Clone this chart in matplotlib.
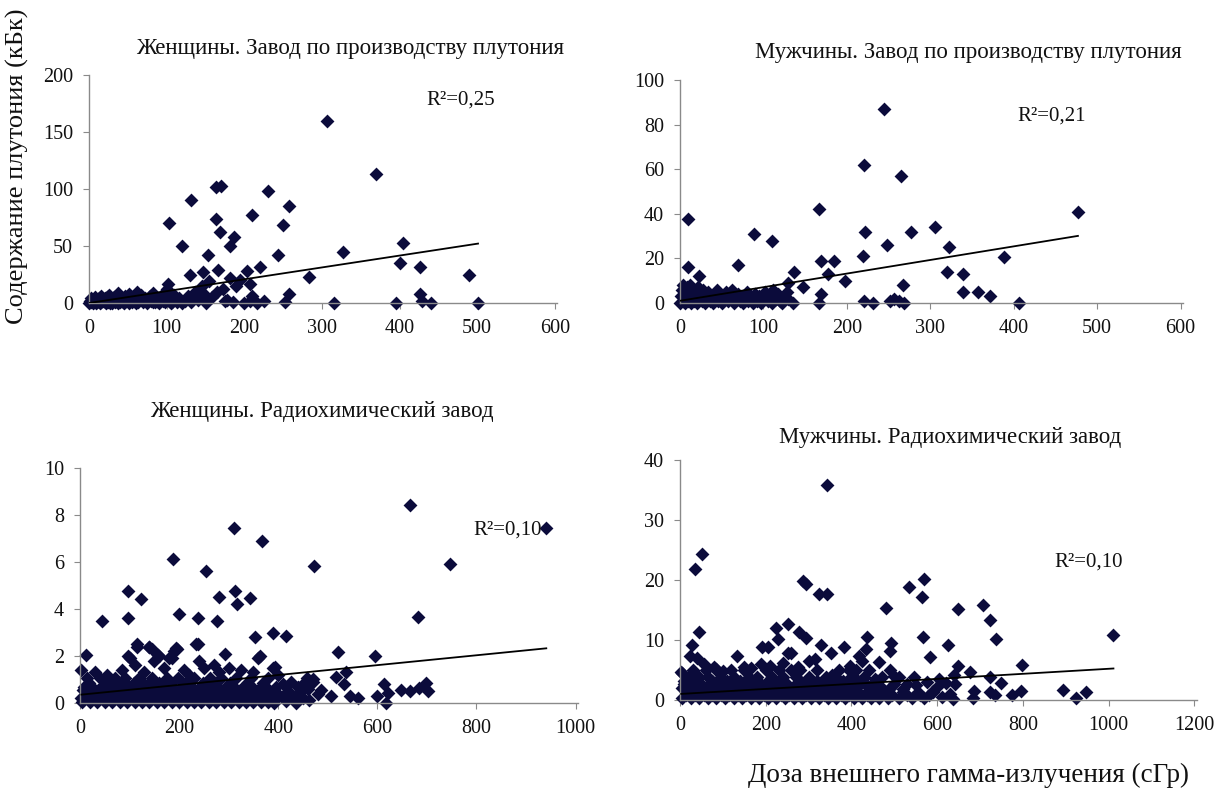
import matplotlib
matplotlib.use("Agg")
import matplotlib.pyplot as plt
import numpy as np

plt.rcParams['font.family'] = ['Liberation Serif', 'DejaVu Serif']

# --- data (dose cGy, plutonium kBq) ---

women_pu_pts = [
    (306, 160), (370, 113), (163, 102), (170, 103), (231, 98), (131, 90), (257, 85),
    (210, 77), (163, 74), (103, 70), (250, 68), (169, 62), (187, 58), (182, 50),
    (120, 50), (404, 53), (327, 45), (153, 42), (243, 42), (400, 35), (426, 32),
    (220, 32), (489, 25), (283, 23), (130, 25), (147, 27), (166, 29), (181, 22),
    (203, 28), (207, 17), (102, 17), (189, 15), (154, 19), (257, 8), (426, 8),
    (315, 0), (396, 0), (440, 0), (501, 0), (429, 2), (252, 1), (151, 0), (175, 2),
    (199, 0), (217, 0), (208, 2),
    (2, 1), (3, 4), (5, 0), (6, 2), (8, 5), (10, 1), (12, 3), (14, 0), (15, 6), (18, 2),
    (20, 4), (22, 0), (24, 1), (26, 7), (28, 3), (30, 0), (32, 5), (35, 2), (37, 9),
    (40, 1), (42, 4), (45, 0), (47, 6), (50, 3), (52, 8), (55, 1), (57, 5), (60, 0),
    (62, 10), (65, 3), (67, 7), (70, 1), (72, 4), (75, 0), (78, 6), (80, 2), (83, 9),
    (85, 1), (88, 4), (90, 0), (93, 6), (95, 2), (98, 1), (100, 12), (102, 5), (105, 0),
    (108, 3), (110, 7), (113, 1), (116, 4), (120, 0), (124, 2), (128, 6), (132, 1),
    (136, 10), (140, 3), (145, 15), (148, 8), (158, 5), (165, 10), (172, 12), (178, 3),
    (185, 1), (195, 20), (210, 6), (225, 2),
    (0, 0), (1, 2), (4, 3), (7, 1), (9, 0), (11, 2), (13, 4), (16, 1), (19, 3), (21, 1),
    (23, 5), (27, 0), (29, 2), (33, 1), (36, 4), (38, 0), (41, 3), (44, 1), (48, 2),
    (51, 0), (54, 4), (58, 2), (63, 1), (68, 5), (73, 2), (77, 3), (82, 1), (87, 2),
    (92, 3), (97, 4), (103, 2), (107, 1), (112, 4), (118, 2),
]

men_pu_pts = [
    (244, 87), (220, 62), (265, 57), (167, 42), (477, 41), (9, 37.5), (306, 34),
    (222, 32), (277, 32), (89, 31), (110, 28), (248, 26), (322, 25), (388, 20.5),
    (219, 21), (169, 19), (184, 19), (69, 17), (9, 16), (177, 13), (320, 14), (339, 13),
    (137, 14), (23, 12), (198, 10), (148, 7), (267, 8), (130, 9), (339, 5), (357, 5),
    (372, 3), (169, 4), (406, 0), (220, 1), (231, 0), (167, 0), (252, 1), (257, 2),
    (269, 0), (262, 1), (136, 0),
    (0, 0), (1, 3), (2, 6), (3, 1), (4, 8), (5, 4), (6, 0), (7, 2), (8, 7), (9, 5),
    (10, 1), (11, 3), (12, 8), (13, 0), (14, 4), (15, 6), (16, 2), (17, 1), (18, 5),
    (19, 3), (20, 0), (21, 7), (22, 2), (24, 4), (26, 1), (28, 6), (30, 0), (32, 3),
    (34, 5), (36, 1), (38, 2), (40, 0), (42, 4), (44, 6), (46, 1), (48, 3), (50, 0),
    (52, 2), (55, 5), (58, 1), (60, 3), (62, 6), (65, 0), (68, 2), (70, 4), (72, 1),
    (75, 0), (78, 3), (80, 5), (82, 1), (85, 2), (88, 0), (90, 4), (92, 1), (95, 3),
    (97, 0), (100, 2), (102, 5), (105, 1), (108, 3), (110, 0), (112, 6), (115, 2),
    (118, 4), (120, 1), (122, 0), (125, 3), (128, 5), (130, 2),
]

women_rc_pts = [
    (665, 8.44), (941, 7.45), (310, 7.45), (367, 6.9), (187, 6.14), (472, 5.83),
    (747, 5.9), (254, 5.63), (96, 4.77), (312, 4.78), (281, 4.5), (344, 4.46),
    (124, 4.43), (317, 4.2), (200, 3.8), (96, 3.63), (682, 3.68), (238, 3.63),
    (45, 3.47), (277, 3.47), (390, 2.97), (415, 2.86), (353, 2.8), (116, 2.5),
    (139, 2.4), (238, 2.5), (521, 2.19), (193, 2.36), (12, 2.05), (293, 2.09),
    (363, 2.0), (596, 1.98), (96, 1.98), (158, 2.05), (179, 1.9), (536, 1.3),
    (394, 1.55), (517, 1.09), (533, 0.8), (613, 0.8), (648, 0.57), (665, 0.5),
    (699, 0.85), (703, 0.5), (684, 0.64), (622, 0.42), (600, 0.28), (544, 0.28),
    (562, 0.21), (507, 0.28), (618, 0.0), (486, 0.57), (462, 0.14), (471, 1.0),
    (458, 1.06),
    (5, 0.05), (20, 0.05), (35, 0.05), (50, 0.05), (65, 0.05), (80, 0.05), (95, 0.05),
    (110, 0.05), (125, 0.05), (140, 0.05), (155, 0.05), (170, 0.05), (185, 0.05),
    (200, 0.05), (215, 0.05), (230, 0.05), (245, 0.05), (260, 0.05), (275, 0.05),
    (290, 0.05), (305, 0.05), (320, 0.05), (335, 0.05), (350, 0.05), (365, 0.05),
    (380, 0.05),
    (3, 0.2), (17, 0.2), (30, 0.2), (46, 0.2), (60, 0.2), (76, 0.2), (90, 0.2),
    (106, 0.2), (120, 0.2), (136, 0.2), (150, 0.2), (166, 0.2), (180, 0.2), (196, 0.2),
    (210, 0.2), (226, 0.2), (240, 0.2), (256, 0.2), (270, 0.2), (286, 0.2), (300, 0.2),
    (316, 0.2), (330, 0.2), (346, 0.2), (360, 0.2), (376, 0.2), (390, 0.2),
    (12, 0.35), (28, 0.35), (42, 0.35), (58, 0.35), (72, 0.35), (88, 0.35), (102, 0.35),
    (118, 0.35), (132, 0.35), (148, 0.35), (162, 0.35), (178, 0.35), (192, 0.35),
    (208, 0.35), (222, 0.35), (238, 0.35), (252, 0.35), (268, 0.35), (282, 0.35),
    (298, 0.35), (312, 0.35), (328, 0.35), (342, 0.35), (358, 0.35), (372, 0.35),
    (388, 0.35), (402, 0.35),
    (6, 0.55), (20, 0.55), (36, 0.55), (52, 0.55), (66, 0.55), (82, 0.55), (96, 0.55),
    (112, 0.55), (126, 0.55), (142, 0.55), (156, 0.55), (172, 0.55), (186, 0.55),
    (202, 0.55), (216, 0.55), (232, 0.55), (246, 0.55), (262, 0.55), (276, 0.55),
    (292, 0.55), (306, 0.55), (322, 0.55), (336, 0.55), (352, 0.55), (366, 0.55),
    (382, 0.55),
    (8, 0.7), (25, 0.7), (45, 0.7), (62, 0.7), (78, 0.7), (98, 0.7), (115, 0.7),
    (135, 0.7), (150, 0.7), (168, 0.7), (188, 0.7), (205, 0.7), (225, 0.7), (242, 0.7),
    (258, 0.7), (278, 0.7), (295, 0.7), (310, 0.7), (330, 0.7), (348, 0.7), (365, 0.7),
    (395, 0.7),
    (18, 0.85), (52, 0.85), (84, 0.85), (108, 0.85), (140, 0.85), (160, 0.85),
    (182, 0.85), (214, 0.85), (248, 0.85), (272, 0.85), (302, 0.85), (338, 0.85),
    (370, 0.85),
    (15, 1.05), (40, 1.05), (70, 1.05), (90, 1.05), (120, 1.05), (145, 1.05),
    (175, 1.05), (198, 1.05), (230, 1.05), (262, 1.05), (285, 1.05), (315, 1.05),
    (345, 1.05), (380, 1.05),
    (3, 1.4), (30, 1.3), (55, 1.2), (85, 1.4), (100, 1.9), (110, 1.6), (130, 1.3),
    (140, 2.4), (150, 1.8), (160, 2.0), (170, 1.5), (185, 1.9), (195, 2.3), (210, 1.4),
    (220, 1.2), (240, 1.8), (250, 1.5), (270, 1.6), (280, 1.3), (300, 1.5), (325, 1.4),
    (350, 1.3), (360, 1.9), (390, 1.5), (400, 1.2), (60, 1.0), (125, 0.9), (235, 2.5),
    (190, 2.2), (145, 2.3), (115, 2.4),
    (410, 0.8), (420, 0.5), (430, 0.3), (440, 0.7), (450, 0.2), (460, 0.6), (470, 0.9),
    (480, 0.4), (425, 0.9), (445, 0.5), (415, 0.1), (435, 0.0), (455, 0.9), (400, 0.3),
    (392, 0.0),
]

men_rc_pts = [
    (344, 35.8), (52, 24.3), (35, 21.8), (287, 19.8), (294, 19.4), (569, 20.1),
    (535, 18.8), (325, 17.7), (342, 17.6), (565, 17.2), (706, 15.9), (481, 15.4),
    (649, 15.1), (722, 13.4), (251, 12.7), (223, 12.0), (44, 11.3), (278, 11.4),
    (1011, 10.9), (437, 10.5), (567, 10.5), (294, 10.3), (228, 10.2), (736, 10.1),
    (493, 9.5), (29, 9.1), (328, 9.1), (624, 9.1), (382, 8.8), (191, 8.8), (205, 8.8),
    (433, 8.5), (352, 7.9), (489, 8.1), (253, 7.9), (132, 7.4), (583, 7.1), (23, 7.3),
    (417, 7.4), (315, 6.9), (465, 6.3), (797, 5.9), (649, 5.7), (396, 5.7), (676, 4.7),
    (3, 4.7), (85, 5.2), (722, 3.8), (639, 4.2), (748, 2.9), (642, 2.7), (686, 1.5),
    (724, 1.4), (795, 1.5), (774, 0.8), (893, 1.6), (947, 1.3), (924, 0.4), (683, 0.4),
    (735, 0.8), (637, 0.2),
    (5, 0.3), (25, 0.3), (45, 0.3), (65, 0.3), (85, 0.3), (105, 0.3), (125, 0.3),
    (145, 0.3), (165, 0.3), (185, 0.3), (205, 0.3), (225, 0.3), (245, 0.3), (265, 0.3),
    (285, 0.3), (305, 0.3), (325, 0.3), (345, 0.3), (365, 0.3), (385, 0.3), (405, 0.3),
    (425, 0.3), (445, 0.3), (465, 0.3), (485, 0.3), (510, 0.3), (540, 0.3), (570, 0.3),
    (15, 0.9), (35, 0.9), (55, 0.9), (75, 0.9), (95, 0.9), (115, 0.9), (135, 0.9),
    (155, 0.9), (175, 0.9), (195, 0.9), (215, 0.9), (235, 0.9), (255, 0.9), (275, 0.9),
    (295, 0.9), (315, 0.9), (335, 0.9), (355, 0.9), (375, 0.9), (395, 0.9), (415, 0.9),
    (435, 0.9), (455, 0.9), (495, 0.9), (530, 0.9), (580, 0.9),
    (15, 1.4), (35, 1.4), (55, 1.4), (75, 1.4), (95, 1.4), (115, 1.4), (135, 1.4),
    (155, 1.4), (175, 1.4), (195, 1.4), (215, 1.4), (235, 1.4), (255, 1.4), (275, 1.4),
    (295, 1.4), (315, 1.4), (335, 1.4), (355, 1.4), (375, 1.4), (395, 1.4), (415, 1.4),
    (435, 1.4), (455, 1.4), (480, 1.4), (520, 1.4), (555, 1.4), (590, 1.4),
    (5, 2.0), (25, 2.0), (45, 2.0), (65, 2.0), (85, 2.0), (105, 2.0), (125, 2.0),
    (145, 2.0), (165, 2.0), (185, 2.0), (205, 2.0), (225, 2.0), (245, 2.0), (265, 2.0),
    (285, 2.0), (305, 2.0), (325, 2.0), (345, 2.0), (365, 2.0), (385, 2.0), (410, 2.0),
    (440, 2.0), (490, 2.0),
    (10, 2.6), (30, 2.6), (50, 2.6), (70, 2.6), (90, 2.6), (110, 2.6), (130, 2.6),
    (150, 2.6), (170, 2.6), (190, 2.6), (210, 2.6), (230, 2.6), (250, 2.6), (270, 2.6),
    (290, 2.6), (310, 2.6), (330, 2.6), (350, 2.6), (370, 2.6), (390, 2.6), (420, 2.6),
    (450, 2.6), (500, 2.6), (530, 2.6),
    (10, 3.2), (40, 3.2), (75, 3.2), (110, 3.2), (140, 3.2), (175, 3.2), (205, 3.2),
    (235, 3.2), (280, 3.2), (320, 3.2), (360, 3.2), (380, 3.2), (415, 3.2), (460, 3.2),
    (20, 3.8), (45, 3.8), (65, 3.8), (95, 3.8), (125, 3.8), (160, 3.8), (180, 3.8),
    (215, 3.8), (240, 3.8), (270, 3.8), (300, 3.8), (340, 3.8), (365, 3.8), (400, 3.8),
    (430, 3.8), (470, 3.8), (510, 3.8), (545, 3.8),
    (30, 5.0), (60, 5.0), (85, 5.0), (120, 5.0), (150, 5.0), (200, 5.0), (230, 5.0),
    (260, 5.0), (280, 5.0), (320, 5.0), (370, 5.0), (410, 5.0), (440, 5.0), (490, 5.0),
    (5, 4.5), (40, 7.0), (55, 6.0), (80, 5.5), (100, 4.8), (150, 5.5), (165, 5.3),
    (190, 6.0), (210, 5.6), (240, 6.2), (260, 7.8), (275, 5.5), (300, 6.5), (355, 4.2),
    (395, 5.0), (425, 6.5), (430, 3.0), (455, 3.5), (470, 2.0), (500, 4.0), (520, 1.8),
    (550, 2.5), (560, 0.9), (575, 3.0), (590, 1.5), (600, 2.2), (610, 0.5), (620, 2.8),
    (630, 1.0), (605, 3.5),
]

# linear trend lines as printed (slope, intercept) and R^2 labels
trend_slope = [0.104, 0.061, 0.0021, 0.0042]
trend_icept = [0.0, 1.0, 0.35, 1.0]
r2_labels = ["R²=0,25", "R²=0,21", "R²=0,10", "R²=0,10"]

titles = [
    "Женщины. Завод по производству плутония",
    "Мужчины. Завод по производству плутония",
    "Женщины. Радиохимический завод",
    "Мужчины. Радиохимический завод",
]
xlims = [(0, 600), (0, 600), (0, 1000), (0, 1200)]
xsteps = [100, 100, 200, 200]
ylims = [(0, 200), (0, 100), (0, 10), (0, 40)]
ysteps = [50, 20, 2, 10]

# --- figure ---
fig = plt.figure(figsize=(12.29, 7.92), dpi=100)
boxes = [
    (0.0724, 0.6174, 0.381, 0.288),
    (0.5533, 0.6174, 0.4093, 0.2816),
    (0.0651, 0.1124, 0.4052, 0.2967),
    (0.5533, 0.1162, 0.4207, 0.303),
]
title_xy = [(0.285, 0.939), (0.788, 0.934), (0.262, 0.480), (0.773, 0.447)]
r2_pos = [(0.72, 0.87), (0.67, 0.82), (0.79, 0.715), (0.725, 0.555)]
all_pts = [women_pu_pts, men_pu_pts, women_rc_pts, men_rc_pts]

for i, pts in enumerate(all_pts):
    ax = fig.add_axes(boxes[i])
    x = np.array([p[0] for p in pts], dtype=float)
    y = np.array([p[1] for p in pts], dtype=float)
    ax.scatter(x, y, marker='D', s=50, color='#0b0b3b', linewidths=0, zorder=2,
               clip_on=False)
    tx = np.array([x.min(), x.max()])
    ax.plot(tx, trend_slope[i] * tx + trend_icept[i], color='black', lw=1.3, zorder=3)

    ax.set_xlim(xlims[i][0], xlims[i][1] * 1.005)
    ax.set_ylim(ylims[i][0], ylims[i][1])
    ax.set_xticks(np.arange(xlims[i][0], xlims[i][1] + 1, xsteps[i]))
    ax.set_yticks(np.arange(ylims[i][0], ylims[i][1] + 0.001, ysteps[i]))
    ax.spines['top'].set_visible(False)
    ax.spines['right'].set_visible(False)
    for s in ('left', 'bottom'):
        ax.spines[s].set_color('#8a8a8a')
        ax.spines[s].set_linewidth(1.0)
    ax.tick_params(direction='out', length=4.5, color='#8a8a8a', labelsize=14.5,
                   labelcolor='#111111', pad=7)
    ax.text(r2_pos[i][0], r2_pos[i][1], r2_labels[i], transform=ax.transAxes,
            fontsize=15, color='#111111')
    fig.text(title_xy[i][0], title_xy[i][1], titles[i], fontsize=16.5,
             ha='center', va='center', color='#111111')

fig.text(0.014, 0.79, "Содержание плутония (кБк)", rotation=90, fontsize=19,
         ha='center', va='center', color='#111111')
fig.text(0.788, 0.021, "Доза внешнего гамма-излучения (сГр)", fontsize=19.5,
         ha='center', va='center', color='#111111')

fig.savefig("out.png", dpi=100)
